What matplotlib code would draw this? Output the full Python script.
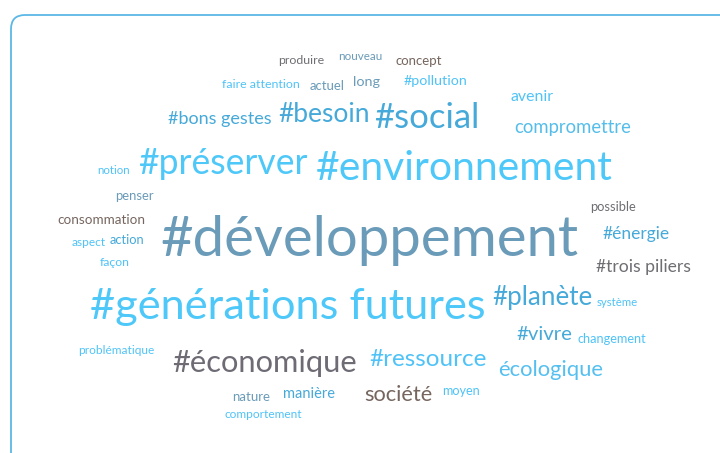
import matplotlib
matplotlib.use("Agg")
import matplotlib.pyplot as plt
from matplotlib.patches import FancyBboxPatch

plt.rcParams['font.family'] = ['Lato', 'DejaVu Sans']

# ---- data ----
words = ["produire", "nouveau", "concept", "faire attention", "actuel", "long",
         "#pollution", "avenir", "#bons gestes", "#besoin", "#social", "compromettre",
         "notion", "#préserver", "#environnement", "penser", "consommation", "possible",
         "aspect", "action", "#développement", "#énergie", "façon", "#trois piliers",
         "#générations futures", "#planète", "système", "#vivre", "changement",
         "problématique", "#économique", "#ressource", "écologique", "nature",
         "manière", "société", "moyen", "comportement"]

GRAY = "#6e6e73"; STEEL = "#6a9bb8"; BROWN = "#76665f"; LIGHT = "#4fc3f7"
MED = "#45a9d9"; SKY = "#4ec8f8"; PGRAY = "#6f6b75"
colors = [GRAY, STEEL, BROWN, LIGHT, STEEL, STEEL,
          LIGHT, LIGHT, MED, MED, MED, "#55bdea",
          LIGHT, SKY, SKY, STEEL, BROWN, GRAY,
          LIGHT, MED, STEEL, MED, LIGHT, GRAY,
          SKY, MED, LIGHT, MED, LIGHT,
          LIGHT, PGRAY, LIGHT, "#55c0f0", STEEL,
          MED, BROWN, LIGHT, LIGHT]

# ---- layout (pixel centres and target widths) ----
layout = [(301, 58, 47), (360, 55, 44), (419, 59, 47), (261, 82, 78), (327, 84, 35), (366, 80, 27),
          (436, 79, 64), (532, 95, 43), (220, 117, 104), (324, 113, 92), (427, 116, 105), (573, 126, 118),
          (114, 169, 33), (223, 161, 170), (464, 167, 298), (134, 194, 39), (101, 218, 88), (613, 205, 46),
          (89, 241, 34), (127, 238, 35), (370, 238, 420), (636, 232, 67), (115, 261, 30), (643, 265, 95),
          (288, 305, 397), (542, 296, 100), (617, 301, 41), (544, 333, 56), (612, 337, 69),
          (116, 348, 76), (265, 361, 186), (428, 358, 118), (551, 368, 106), (251, 395, 38),
          (309, 392, 52), (398, 393, 69), (461, 389, 38), (263, 412, 78)]

fig = plt.figure(figsize=(7.2, 4.53), dpi=100)
ax = fig.add_axes([0, 0, 1, 1])
ax.set_xlim(0, 720)
ax.set_ylim(453, 0)
ax.axis('off')

border = FancyBboxPatch((11, 15), 740, 470, boxstyle="round,pad=0,rounding_size=14",
                        fc="white", ec="#5cb8e6", lw=1.3)
ax.add_patch(border)

fig.canvas.draw()
renderer = fig.canvas.get_renderer()
for w, c, (x, y, tw) in zip(words, colors, layout):
    t = ax.text(x, y + 2, w, color=c, fontsize=10, ha='center', va='center')
    bb = t.get_window_extent(renderer=renderer)
    t.set_fontsize(10 * tw / bb.width)

fig.savefig("out.png", dpi=100)
